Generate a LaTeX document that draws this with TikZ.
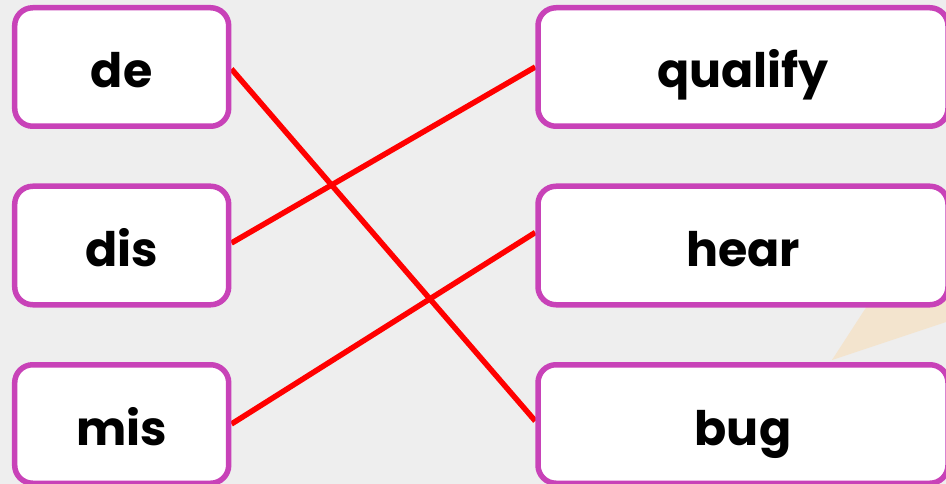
\documentclass[tikz,border=0pt]{standalone}
\usepackage{fontspec}
\newfontfamily\wordfont{Poppins}
\usetikzlibrary{positioning,backgrounds}

\definecolor{boxrim}{RGB}{200,66,184}
\definecolor{paper}{RGB}{238,238,238}
\definecolor{beigepatch}{RGB}{243,228,206}

\begin{document}
\begin{tikzpicture}
[
x=1pt, y=-1pt
, wordbox/.style={draw=boxrim, fill=white, line width=5.5pt, rounded corners=18pt, minimum height=118.5pt, text height=44pt, text depth=2pt, font=\wordfont\bfseries\fontsize{47.5}{52}\selectfont}
, prefixbox/.style={wordbox, minimum width=214pt}
, stembox/.style={wordbox, minimum width=410pt}
, matchline/.style={red, line width=5.5pt}
]

\useasboundingbox (0,0) rectangle (946,484);

% backdrop
\begin{scope}[on background layer]
\fill[paper] (0,0) rectangle (946,484);
\fill[beigepatch] (832,360) -- (880,286) -- (946,286) -- (946,322) -- cycle;
\end{scope}

% prefixes
\node[prefixbox] (de)  at (121.7,67)    {de};
\node[prefixbox] (dis) at (121.7,245.5) {dis};
\node[prefixbox] (mis) at (121.7,424)   {mis};

% words
\node[stembox] (qualify) at (743,67)    {qualify};
\node[stembox] (hear)    at (743,245.5) {hear};
\node[stembox] (bug)     at (743,424)   {bug};

% answers
\begin{scope}[on background layer]
\draw[matchline] ([yshift=-2pt]de.east) -- ([yshift=3pt]bug.west);
\draw[matchline] ([yshift=2.5pt]dis.east) -- (qualify.west);
\draw[matchline] (mis.east) -- ([yshift=13pt]hear.west);
\end{scope}

\end{tikzpicture}
\end{document}
